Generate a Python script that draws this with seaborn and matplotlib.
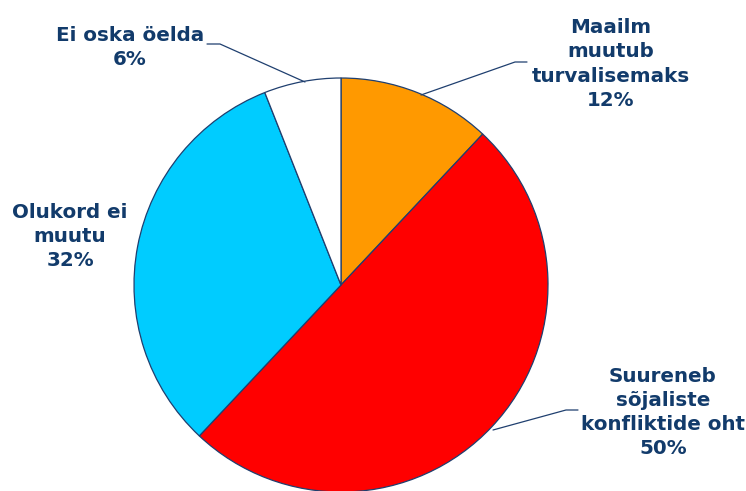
import matplotlib
matplotlib.use("Agg")
import matplotlib.pyplot as plt
import seaborn as sns

sns.set_style("white")
plt.rcParams['font.family'] = ['DejaVu Sans']

categories = ["Maailm\nmuutub\nturvalisemaks", "Suureneb\nsõjaliste\nkonfliktide oht",
              "Olukord ei\nmuutu", "Ei oska öelda"]
values = [12, 50, 32, 6]
colors = ["#FF9900", "#FF0000", "#00CCFF", "#FFFFFF"]

W, H = 746, 491
fig = plt.figure(figsize=(W / 100, H / 100), dpi=100)
ax = fig.add_axes([0, 0, 1, 1])

def Y(y):
    return H - y

ax.pie(values, colors=colors, startangle=90, counterclock=False,
       center=(341, Y(285)), radius=207,
       wedgeprops=dict(edgecolor="#1F3F6F", linewidth=0.9))
ax.set_xlim(0, W)
ax.set_ylim(0, H)
ax.set_aspect("equal")
ax.axis("off")

tc = "#123B6B"
label_pos = [(611, 64), (663, 412.5), (70, 236.5), (130, 47.5)]
for cat, v, (x, y) in zip(categories, values, label_pos):
    ax.text(x, Y(y), f"{cat}\n{v}%", ha="center", va="center", fontsize=14.3,
            fontweight="bold", color=tc, linespacing=1.35)

lines = [
    [(421, 95), (515, 62), (527, 62)],
    [(493, 430), (566, 410), (578, 410)],
    [(305, 82), (220, 44), (207, 44)],
]
for pts in lines:
    ax.plot([p[0] for p in pts], [Y(p[1]) for p in pts], color="#1F3F6F", lw=0.9)

fig.savefig("out.png", dpi=100)
